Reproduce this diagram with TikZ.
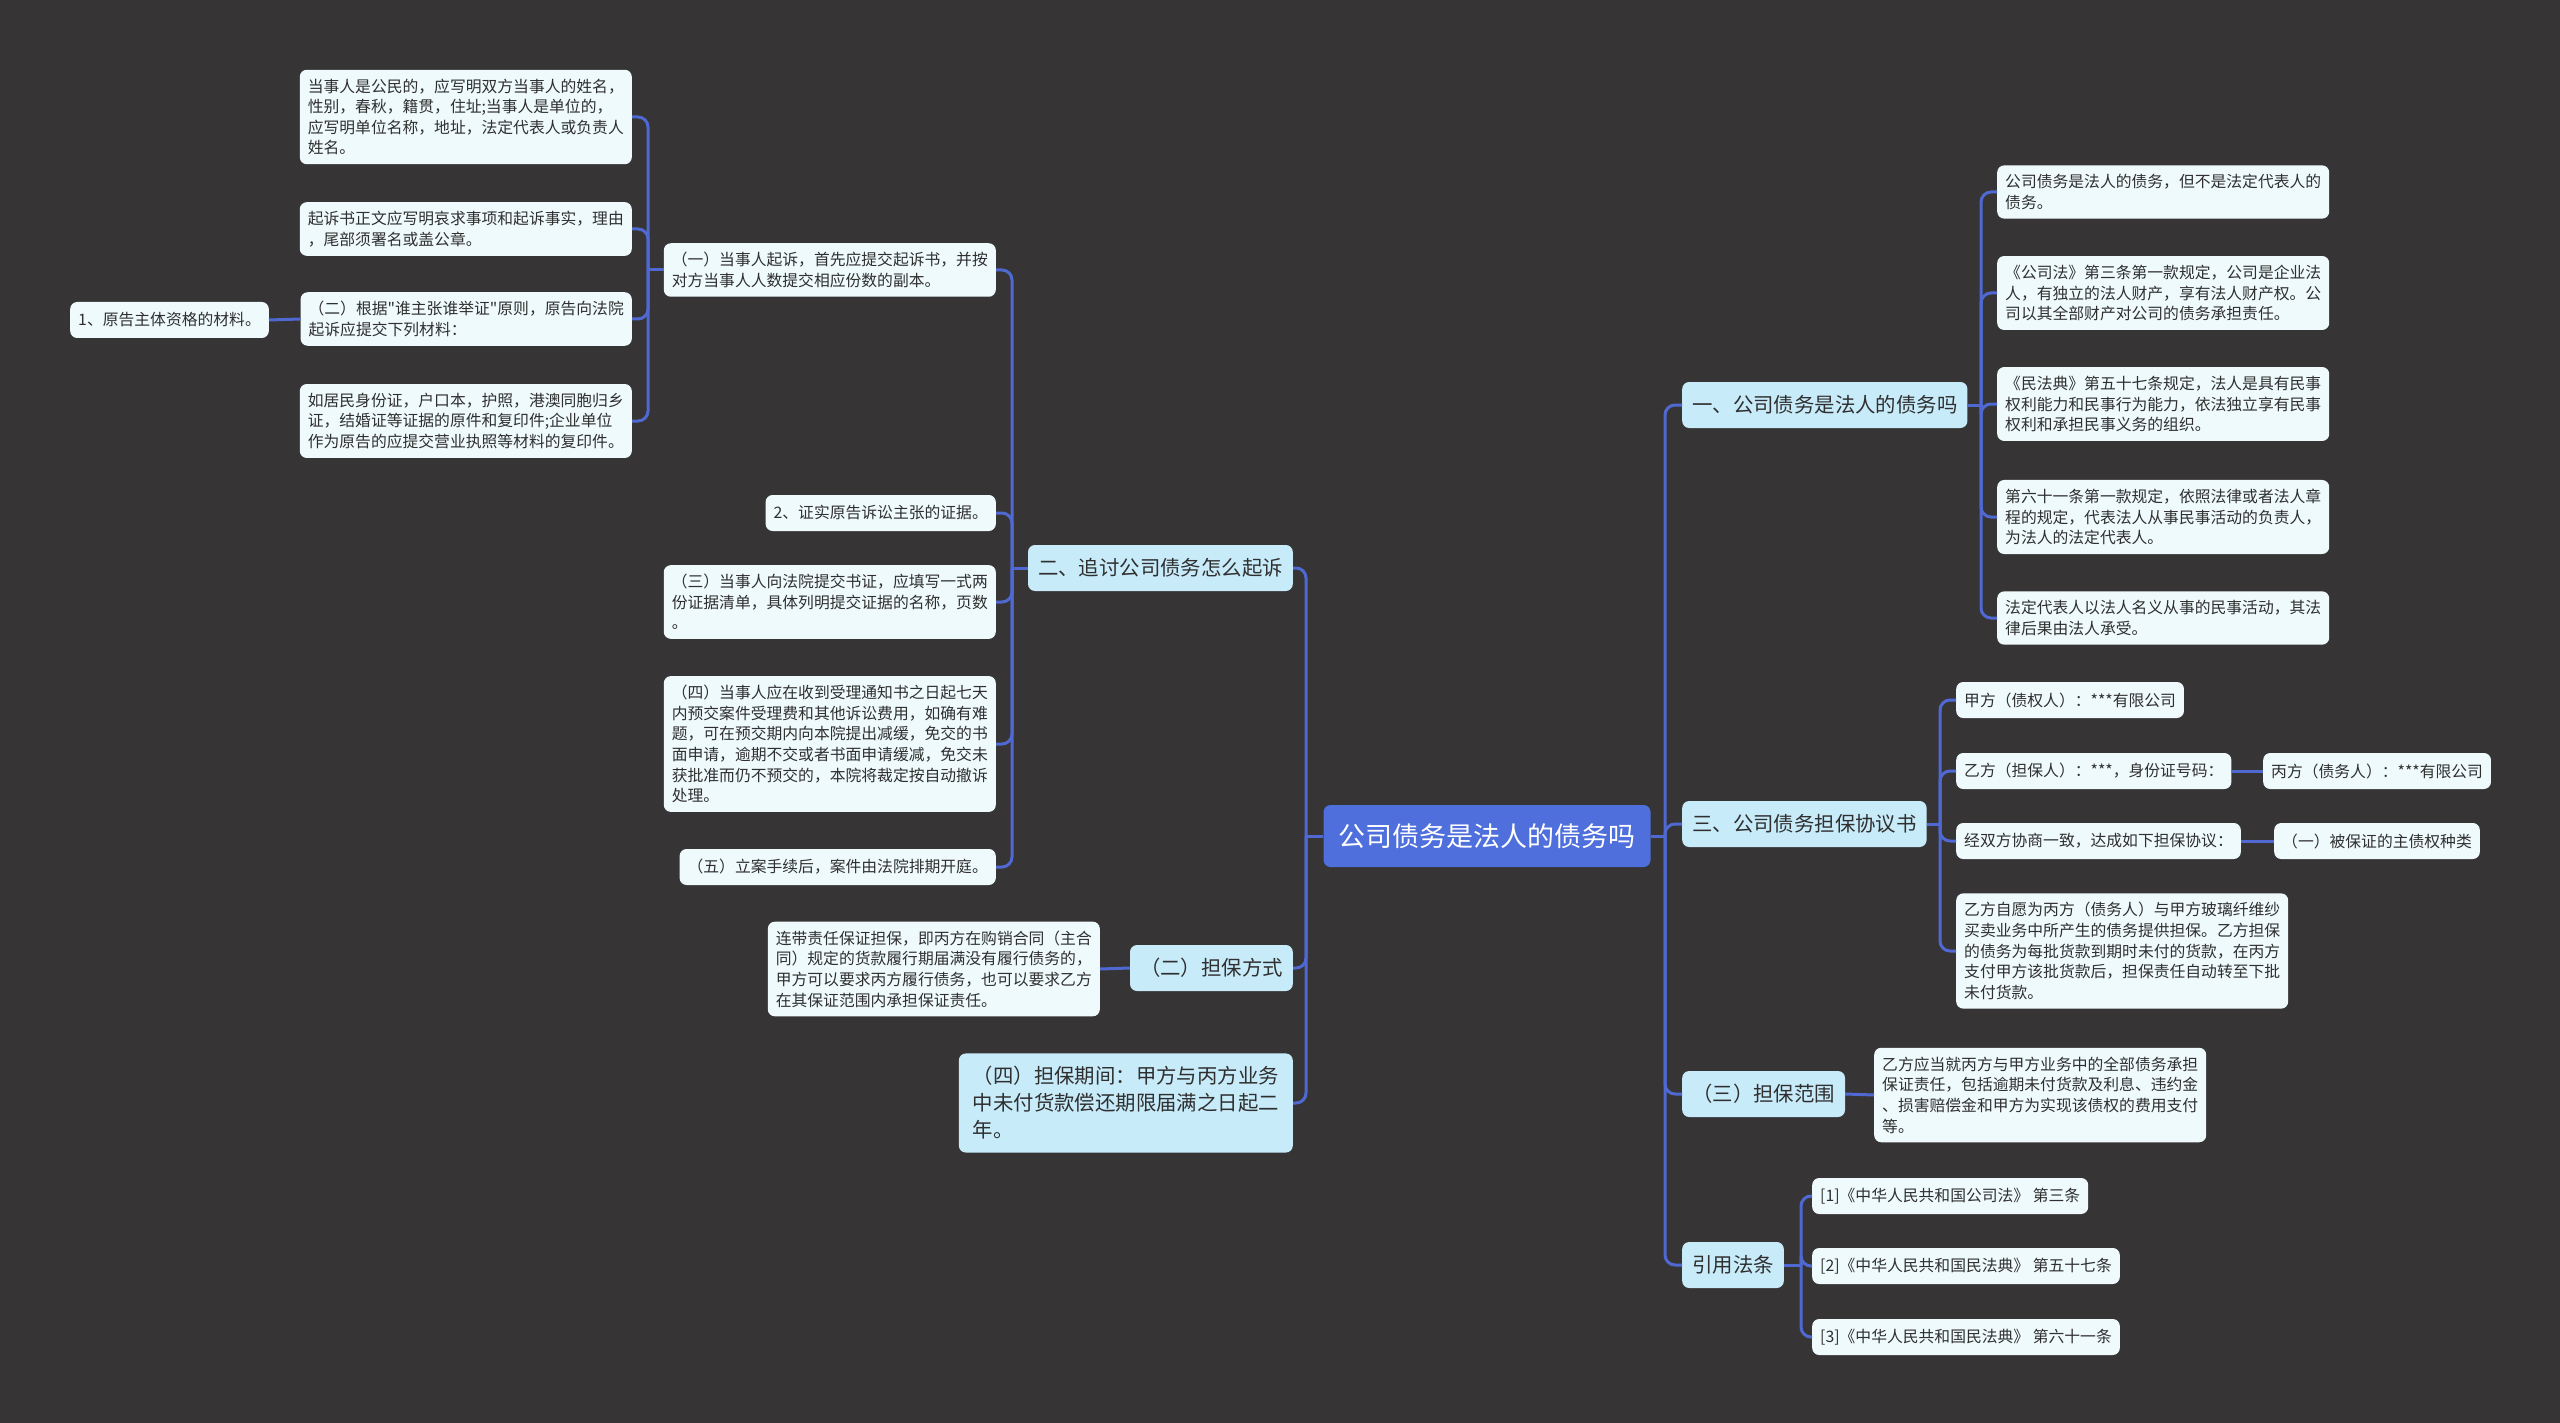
\documentclass[tikz,border=0pt]{standalone}
\usepackage{fontspec}
\setmainfont{Noto Sans CJK SC}[Ligatures=TeXOff]
\definecolor{sfondo}{HTML}{363435}
\definecolor{fogliacol}{HTML}{EFFAFD}
\definecolor{ramocol}{HTML}{C8EBFA}
\definecolor{radicecol}{HTML}{4F6FDC}
\definecolor{lineacol}{HTML}{5069D2}
\definecolor{testo}{HTML}{2F2F2F}
\begin{document}
\begin{tikzpicture}[x=1pt,y=-1pt,
	foglia/.style={fill=fogliacol, rounded corners=7pt, align=left, text=testo,
		font=\fontsize{15.8}{20.6}\selectfont, inner xsep=8pt, inner ysep=9pt, minimum height=36pt},
	ramo/.style={fill=ramocol, rounded corners=7pt, align=left, text=testo,
		font=\fontsize{20.4}{27}\selectfont, inner xsep=10pt, inner ysep=12pt, minimum height=46pt},
	radice/.style={fill=radicecol, rounded corners=7pt, text=white,
		font=\fontsize{27}{32}\selectfont, inner xsep=15pt, minimum height=62pt},
	link/.style={draw=lineacol, line width=3pt, rounded corners=10pt}]
	\fill[sfondo] (0,0) rectangle (2560,1423); % sfondo

	\node[radice] (root) at (1487,836) {公司债务是法人的债务吗};

	% lato sinistro
	\node[ramo, anchor=east] (sx1) at (1293,568) {二、追讨公司债务怎么起诉};
	\node[ramo, anchor=east] (sx2) at (1293,968) {（二）担保方式};
	\node[ramo, anchor=east, inner ysep=13pt, inner xsep=14pt] (sx3) at (1293,1103) {（四）担保期间：甲方与丙方业务\\中未付货款偿还期限届满之日起二\\年。};

	\node[foglia, anchor=east] (qs1) at (996,270) {（一）当事人起诉，首先应提交起诉书，并按\\对方当事人人数提交相应份数的副本。};
	\node[foglia, anchor=east] (qs2) at (996,513) {2、证实原告诉讼主张的证据。};
	\node[foglia, anchor=east] (qs3) at (996,602) {（三）当事人向法院提交书证，应填写一式两\\份证据清单，具体列明提交证据的名称，页数\\。};
	\node[foglia, anchor=east] (qs4) at (996,744) {（四）当事人应在收到受理通知书之日起七天\\内预交案件受理费和其他诉讼费用，如确有难\\题，可在预交期内向本院提出减缓，免交的书\\面申请，逾期不交或者书面申请缓减，免交未\\获批准而仍不预交的，本院将裁定按自动撤诉\\处理。};
	\node[foglia, anchor=east] (qs5) at (996,867) {（五）立案手续后，案件由法院排期开庭。};

	\node[foglia, anchor=east] (ql1) at (632,117) {当事人是公民的，应写明双方当事人的姓名，\\性别，春秋，籍贯，住址;当事人是单位的，\\应写明单位名称，地址，法定代表人或负责人\\姓名。};
	\node[foglia, anchor=east] (ql2) at (632,229) {起诉书正文应写明哀求事项和起诉事实，理由\\，尾部须署名或盖公章。};
	\node[foglia, anchor=east] (ql3) at (632,319) {（二）根据"谁主张谁举证"原则，原告向法院\\起诉应提交下列材料：};
	\node[foglia, anchor=east] (ql4) at (632,421) {如居民身份证，户口本，护照，港澳同胞归乡\\证，结婚证等证据的原件和复印件;企业单位\\作为原告的应提交营业执照等材料的复印件。};
	\node[foglia, anchor=east] (mat) at (269,320) {1、原告主体资格的材料。};

	\node[foglia, anchor=east] (lian) at (1100,969) {连带责任保证担保，即丙方在购销合同（主合\\同）规定的货款履行期届满没有履行债务的，\\甲方可以要求丙方履行债务，也可以要求乙方\\在其保证范围内承担保证责任。};

	% lato destro
	\node[ramo, anchor=west] (dx1) at (1682,405) {一、公司债务是法人的债务吗};
	\node[ramo, anchor=west] (dx2) at (1682,824) {三、公司债务担保协议书};
	\node[ramo, anchor=west] (dx3) at (1682,1094) {（三）担保范围};
	\node[ramo, anchor=west] (dx4) at (1682,1265) {引用法条};

	\node[foglia, anchor=west] (fr1) at (1997,192) {公司债务是法人的债务，但不是法定代表人的\\债务。};
	\node[foglia, anchor=west] (fr2) at (1997,293) {《公司法》第三条第一款规定，公司是企业法\\人，有独立的法人财产，享有法人财产权。公\\司以其全部财产对公司的债务承担责任。};
	\node[foglia, anchor=west] (fr3) at (1997,404) {《民法典》第五十七条规定，法人是具有民事\\权利能力和民事行为能力，依法独立享有民事\\权利和承担民事义务的组织。};
	\node[foglia, anchor=west] (fr4) at (1997,517) {第六十一条第一款规定，依照法律或者法人章\\程的规定，代表法人从事民事活动的负责人，\\为法人的法定代表人。};
	\node[foglia, anchor=west] (fr5) at (1997,618) {法定代表人以法人名义从事的民事活动，其法\\律后果由法人承受。};

	\node[foglia, anchor=west] (ac1) at (1956,700) {甲方（债权人）：***有限公司};
	\node[foglia, anchor=west] (ac2) at (1956,771) {乙方（担保人）：***，身份证号码：};
	\node[foglia, anchor=west] (ac3) at (1956,841) {经双方协商一致，达成如下担保协议：};
	\node[foglia, anchor=west] (ac4) at (1956,951) {乙方自愿为丙方（债务人）与甲方玻璃纤维纱\\买卖业务中所产生的债务提供担保。乙方担保\\的债务为每批货款到期时未付的货款，在丙方\\支付甲方该批货款后，担保责任自动转至下批\\未付货款。};
	\node[foglia, anchor=west] (bing) at (2263,771) {丙方（债务人）：***有限公司};
	\node[foglia, anchor=west] (zhai) at (2274,841) {（一）被保证的主债权种类};

	\node[foglia, anchor=west] (fanw) at (1874,1095) {乙方应当就丙方与甲方业务中的全部债务承担\\保证责任，包括逾期未付货款及利息、违约金\\、损害赔偿金和甲方为实现该债权的费用支付\\等。};

	\node[foglia, anchor=west] (law1) at (1812,1196) {[1]《中华人民共和国公司法》 第三条};
	\node[foglia, anchor=west] (law2) at (1812,1266) {[2]《中华人民共和国民法典》 第五十七条};
	\node[foglia, anchor=west] (law3) at (1812,1337) {[3]《中华人民共和国民法典》 第六十一条};

	% snodi dei collegamenti
	\coordinate (tR) at (1665,836);
	\coordinate (tL) at (1306,836);
	\coordinate (t1) at (1012,568);
	\coordinate (t2) at (648,270);
	\coordinate (t3) at (1981,405);
	\coordinate (t4) at (1940,824);
	\coordinate (t5) at (1801,1265);

	\draw[link] (root.east) -- (tR);
	\foreach \n in {dx1,dx2,dx3,dx4} \draw[link] (\n.west) -| (tR);
	\draw[link] (root.west) -- (tL);
	\foreach \n in {sx1,sx2,sx3} \draw[link] (\n.east) -| (tL);

	\draw[link] (sx1.west) -- (t1);
	\foreach \n in {qs1,qs2,qs3,qs4,qs5} \draw[link] (\n.east) -| (t1);
	\draw[link] (qs1.west) -- (t2);
	\foreach \n in {ql1,ql2,ql3,ql4} \draw[link] (\n.east) -| (t2);
	\draw[link] (ql3.west) -- (mat.east);
	\draw[link] (sx2.west) -- (lian.east);

	\draw[link] (dx1.east) -- (t3);
	\foreach \n in {fr1,fr2,fr3,fr4,fr5} \draw[link] (\n.west) -| (t3);
	\draw[link] (dx2.east) -- (t4);
	\foreach \n in {ac1,ac2,ac3,ac4} \draw[link] (\n.west) -| (t4);
	\draw[link] (ac2.east) -- (bing.west);
	\draw[link] (ac3.east) -- (zhai.west);
	\draw[link] (dx3.east) -- (fanw.west);
	\draw[link] (dx4.east) -- (t5);
	\foreach \n in {law1,law2,law3} \draw[link] (\n.west) -| (t5);
\end{tikzpicture}
\end{document}
